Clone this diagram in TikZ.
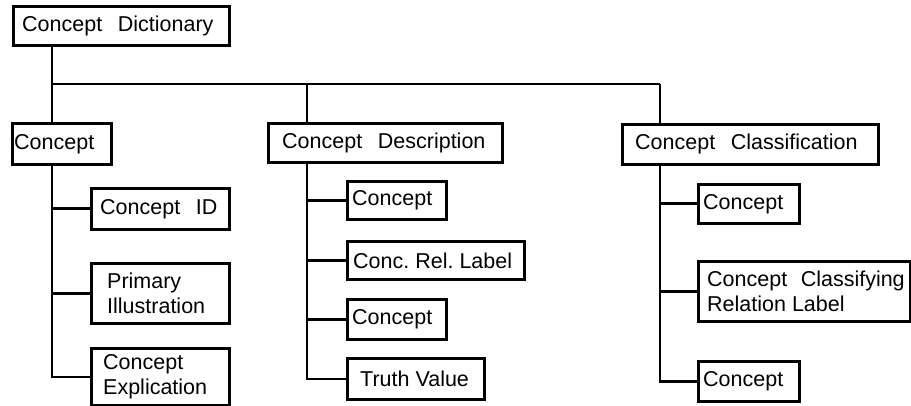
\documentclass[tikz,border=0pt]{standalone}
\usepackage{fontspec}
\setmainfont{Liberation Sans}
\frenchspacing
\newcommand\wgap{\ \hspace{0.45em}}
% box with top-left corner (x1,y1), bottom-right (x2,y2); text starts pad to the right of the left edge
\newcommand\conceptbox[7]{%
  \pgfmathsetmacro\boxw{#4-#2}%
  \pgfmathsetmacro\boxh{#5-#3}%
  \node[cbox, minimum width=\boxw pt, minimum height=\boxh pt] (#1) at (#2,#3) {};
  \node[ctext] (#1t) at ([xshift=#6pt]#1.west) {#7};}
\begin{document}
\begin{tikzpicture}[x=1pt, y=-1pt,
  cbox/.style={draw, line width=2.7pt, rectangle, anchor=north west, inner sep=0pt},
  ctext/.style={anchor=west, inner sep=0pt, align=left, font=\fontsize{21.5}{25}\selectfont},
  wire/.style={line width=2.7pt}]
\useasboundingbox (0,0) rectangle (911,406);

% root
\conceptbox{dict}{12}{5}{228}{44}{10}{Concept\wgap Dictionary}

% first level
\conceptbox{concept}{11}{122}{110}{163}{3}{Concept}
\conceptbox{cdesc}{267}{122}{501}{161}{15}{Concept\wgap Description}
\conceptbox{ccls}{621}{123}{877}{163}{14}{Concept\wgap Classification}

% children of Concept
\conceptbox{cid}{90}{187}{228}{228}{10}{Concept\wgap ID}
\conceptbox{prim}{90}{262}{228}{322}{17}{Primary\\Illustration}
\conceptbox{expl}{90}{347}{228}{404}{13}{Concept\\Explication}

% children of Concept Description
\conceptbox{dc1}{346}{180}{445}{218}{6}{Concept}
\conceptbox{crl}{346}{240}{523}{278}{7}{Conc. Rel. Label}
\conceptbox{dc2}{346}{298}{445}{338}{6}{Concept}
\conceptbox{tv}{346}{357}{483}{398}{14}{Truth Value}

% children of Concept Classification
\conceptbox{kc1}{697}{183}{798}{222}{6}{Concept}
\conceptbox{ccrl}{697}{260}{909}{320}{10}{Concept\ \hspace{0.35em}Classifying\\Relation Label}
\conceptbox{kc2}{697}{360}{798}{400}{6}{Concept}

% junctions on the top bus
\coordinate (jA) at (52,84);
\coordinate (jB) at (307,84);
\coordinate (jC) at (660,84);

% top bus
\draw[wire] (dict.south -| jA) -- (jA) -- (jC);
\draw[wire] (jA) -- (concept.north -| jA);
\draw[wire] (jB) -- (cdesc.north -| jB);
\draw[wire] (jC) -- (ccls.north -| jC);

% Concept branches
\draw[wire] (concept.south -| jA) |- (expl.west);
\draw[wire] (cid.west -| jA) -- (cid.west);
\draw[wire] (prim.west -| jA) -- (prim.west);

% Concept Description branches
\draw[wire] (cdesc.south -| jB) |- (tv.west);
\draw[wire] (dc1.west -| jB) -- (dc1.west);
\draw[wire] (crl.west -| jB) -- (crl.west);
\draw[wire] (dc2.west -| jB) -- (dc2.west);

% Concept Classification branches
\draw[wire] (ccls.south -| jC) |- (kc2.west);
\draw[wire] (kc1.west -| jC) -- (kc1.west);
\draw[wire] (ccrl.west -| jC) -- (ccrl.west);
\end{tikzpicture}
\end{document}
